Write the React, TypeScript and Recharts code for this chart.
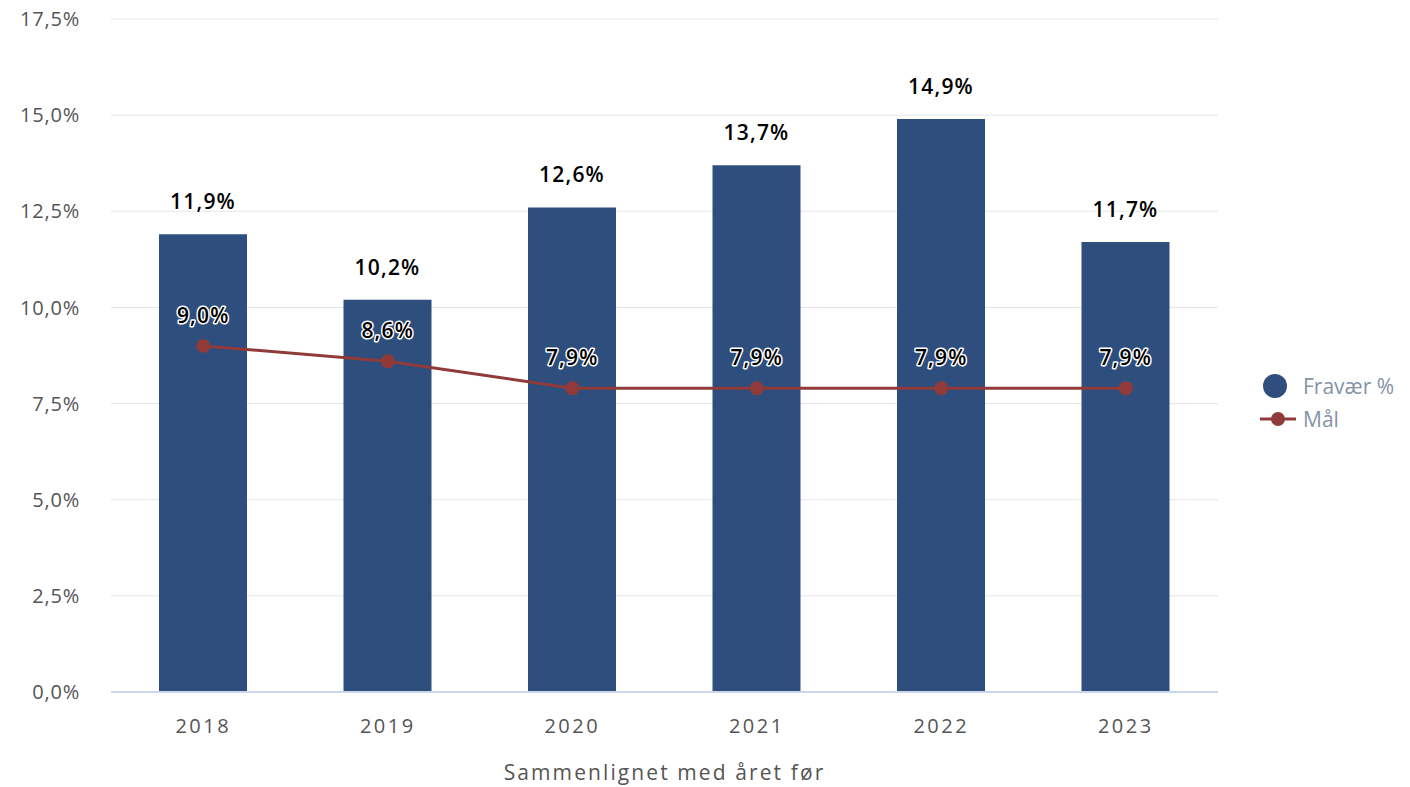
import React from 'react';
import { ComposedChart, Bar, Line, XAxis, YAxis, CartesianGrid, Legend, LabelList, Label } from 'recharts';

const years = ['2018', '2019', '2020', '2021', '2022', '2023'];
const fravaer = [11.9, 10.2, 12.6, 13.7, 14.9, 11.7];
const maal = [9.0, 8.6, 7.9, 7.9, 7.9, 7.9];
const yTicks = [0, 2.5, 5, 7.5, 10, 12.5, 15, 17.5];

const data = years.map((y, i) => ({ year: y, fravaer: fravaer[i], maal: maal[i] }));

const BAR = '#2e4e7e';
const LINE = '#903b3a';
const FONT = '"Open Sans", sans-serif';

const pct = (v: number) => v.toFixed(1).replace('.', ',') + '%';

const BarLabel = (props: any) => {
  const { x, y, width, value } = props;
  return (
    <text x={x + width / 2} y={y - 25} textAnchor="middle" fontFamily={FONT} fontSize={21} fontWeight={600}
      letterSpacing={1.2} fill="#000" stroke="#fff" strokeWidth={3} paintOrder="stroke" strokeLinejoin="round">
      {pct(value)}
    </text>
  );
};

const LineLabel = (props: any) => {
  const { x, y, value } = props;
  return (
    <text x={x} y={y - 23} textAnchor="middle" fontFamily={FONT} fontSize={21} fontWeight={600}
      letterSpacing={1.2} fill="#000" stroke="#fff" strokeWidth={3} paintOrder="stroke" strokeLinejoin="round">
      {pct(value)}
    </text>
  );
};

const LegendBox = () => (
  <div style={{ fontFamily: FONT, fontSize: 21, color: '#8593a6' }}>
    <div style={{ display: 'flex', alignItems: 'center', height: 33 }}>
      <svg width={36} height={26}><circle cx={15} cy={13} r={12} fill={BAR} /></svg>
      <span style={{ marginLeft: 7 }}>Fravær %</span>
    </div>
    <div style={{ display: 'flex', alignItems: 'center', height: 33 }}>
      <svg width={36} height={26}>
        <line x1={0} y1={13} x2={36} y2={13} stroke={LINE} strokeWidth={3} />
        <circle cx={18} cy={13} r={7} fill={LINE} />
      </svg>
      <span style={{ marginLeft: 7 }}>Mål</span>
    </div>
  </div>
);

export default function App() {
  return (
    <div style={{ position: 'absolute', left: 0, top: 0, background: '#fff' }}>
      <ComposedChart width={1410} height={787} data={data} margin={{ top: 19, right: 192, bottom: 4, left: 0 }}>
        <CartesianGrid vertical={false} stroke="#e6e6e6" />
        <XAxis dataKey="year" height={91} tickLine={false} axisLine={{ stroke: '#ccd6eb', strokeWidth: 2 }}
          tickSize={0} tickMargin={27}
          tick={{ fontFamily: FONT, fontSize: 20, fill: '#555', letterSpacing: 2.5 }}>
          <Label value="Sammenlignet med året før" position="insideBottom" offset={3}
            style={{ fontFamily: FONT, fontSize: 21, fill: '#555', letterSpacing: 2.1 }} />
        </XAxis>
        <YAxis width={111} domain={[0, 17.5]} ticks={yTicks} tickFormatter={pct} axisLine={false} tickLine={false}
          tickSize={0} tickMargin={31}
          tick={{ fontFamily: FONT, fontSize: 20, fill: '#555', letterSpacing: 0.8 }} />
        <Legend layout="horizontal" align="center" verticalAlign="middle" content={<LegendBox />}
          wrapperStyle={{ left: 1260, top: 369, width: 150, height: 70 }} />
        <Bar dataKey="fravaer" name="Fravær %" fill={BAR} barSize={88} isAnimationActive={false}>
          <LabelList dataKey="fravaer" content={<BarLabel />} />
        </Bar>
        <Line dataKey="maal" name="Mål" stroke={LINE} strokeWidth={3} type="linear"
          dot={{ r: 7, fill: LINE, stroke: LINE, strokeWidth: 0 }} activeDot={false} isAnimationActive={false}>
          <LabelList dataKey="maal" content={<LineLabel />} />
        </Line>
      </ComposedChart>
    </div>
  );
}
